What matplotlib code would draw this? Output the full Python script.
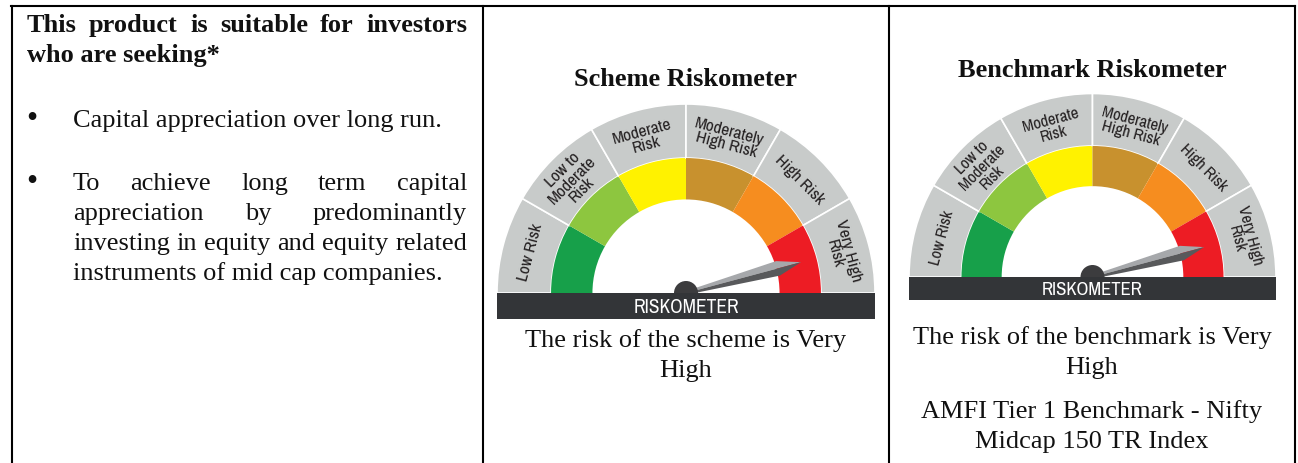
import numpy as np
import matplotlib
matplotlib.use("Agg")
import matplotlib.pyplot as plt
from matplotlib import font_manager as fm
from matplotlib.patches import Wedge, Rectangle, Polygon, Circle

# ---------------- data ----------------
risk_levels = ["Low Risk", "Low to\nModerate\nRisk", "Moderate\nRisk",
               "Moderately\nHigh Risk", "High Risk", "Very High\nRisk"]
risk_colors = ["#17a04a", "#8dc63f", "#fff200", "#c8912e", "#f68d1f", "#ed1c24"]
scheme_risk_level = 5.5      # needle position on the 0-6 scale (Very High)
benchmark_risk_level = 5.5

header_lines = ["This product is suitable for investors", "who are seeking*"]
bullet1_lines = ["Capital appreciation over long run."]
bullet2_lines = ["To achieve long term capital",
                 "appreciation by predominantly",
                 "investing in equity and equity related",
                 "instruments of mid cap companies."]
scheme_title = "Scheme Riskometer"
benchmark_title = "Benchmark Riskometer"
scheme_caption = ["The risk of the scheme is Very", "High"]
benchmark_caption = ["The risk of the benchmark is Very", "High"]
benchmark_name = ["AMFI Tier 1 Benchmark - Nifty", "Midcap 150 TR Index"]

# ---------------- fonts ----------------
def pick_condensed():
    cands = []
    for f in fm.fontManager.ttflist:
        nm = f.name
        st = str(f.stretch).lower()
        wt = f.weight
        is_reg = (wt in (400, "normal", "regular", "book")) and f.style == "normal"
        if not is_reg:
            continue
        if "narrow" in nm.lower() or "condensed" in nm.lower():
            cands.append((0, nm, f.fname))
        elif "condensed" in st or st in ("300", "400", "200", "100"):
            cands.append((1, nm, f.fname))
    if cands:
        cands.sort()
        return fm.FontProperties(fname=cands[0][2])
    return None

COND = pick_condensed()

# ---------------- figure ----------------
W, H = 1298, 464
fig = plt.figure(figsize=(W / 100, H / 100), dpi=100)
ax = fig.add_axes([0, 0, 1, 1])
ax.set_xlim(0, W)
ax.set_ylim(H, 0)
ax.axis("off")

SERIF = ["Liberation Serif", "DejaVu Serif"]
TXT = "#111111"
FS = 19


def cond_kw(size):
    if COND is not None:
        fp = COND.copy()
        fp.set_size(size)
        return {"fontproperties": fp}
    return {"family": "DejaVu Sans", "fontsize": size * 0.85}


# table borders
lw = 1.5
ax.plot([11, 1295], [6.5, 6.5], color="black", lw=lw, solid_capstyle="projecting")
for x in [11.5, 483, 889, 1295]:
    ax.plot([x, x], [6.5, H + 5], color="black", lw=lw)

renderer = fig.canvas.get_renderer()


def justify(line, x0, x1, y, **kw):
    words = line.split()
    ts = [ax.text(x0, y, w, ha="left", va="baseline", **kw) for w in words]
    widths = [t.get_window_extent(renderer).width for t in ts]
    gap = (x1 - x0 - sum(widths)) / (len(words) - 1)
    x = x0
    for t, w in zip(ts, widths):
        t.set_x(x)
        x += w + gap


# left column
justify(header_lines[0], 27, 467, 32, family=SERIF, fontsize=FS,
        fontweight="bold", color=TXT)
ax.text(27, 62, header_lines[1], ha="left", va="baseline", family=SERIF,
        fontsize=FS, fontweight="bold", color=TXT)

ax.text(32, 119, "\u2022", ha="center", va="center", family=SERIF, fontsize=23, color=TXT)
ax.text(73, 127, bullet1_lines[0], ha="left", va="baseline", family=SERIF,
        fontsize=FS, color=TXT)

ax.text(32, 183, "\u2022", ha="center", va="center", family=SERIF, fontsize=23, color=TXT)
b2_base = [190, 220, 250, 280]
for i, line in enumerate(bullet2_lines):
    if i < 3:
        justify(line, 73, 467, b2_base[i], family=SERIF, fontsize=FS, color=TXT)
    else:
        ax.text(73, b2_base[i], line, ha="left", va="baseline", family=SERIF,
                fontsize=FS, color=TXT)


def gauge(cx, cy, R, bar_x0, bar_x1, bar_y1, level, label_fs, bar_fs):
    r_col = R * 0.714
    r_in = R * 0.495
    n = len(risk_levels)
    step = 180.0 / n
    for i in range(n):
        a1 = 180 - (i + 1) * step
        a2 = 180 - i * step
        ax.add_patch(Wedge((cx, cy), R, -a2, -a1, width=R - r_col,
                           facecolor="#c8cbca", edgecolor="white", lw=1.2))
        ax.add_patch(Wedge((cx, cy), r_col, -a2, -a1, width=r_col - r_in,
                           facecolor=risk_colors[i], edgecolor="none"))
        am = np.radians(180 - (i + 0.5) * step)
        rl = (R + r_col) / 2 - 1
        ax.text(cx + rl * np.cos(am), cy - rl * np.sin(am), risk_levels[i],
                rotation=np.degrees(am) - 90, rotation_mode="anchor",
                ha="center", va="center", multialignment="center",
                color="#231f20", linespacing=0.92, **cond_kw(label_fs))
    # needle
    ang = np.radians(180 - level * step)
    L = 0.63 * R
    u = np.array([np.cos(ang), -np.sin(ang)])
    v = np.array([-np.sin(ang), -np.cos(ang)])
    c = np.array([cx, cy])
    base_w, head_w, head_pos = 1.8, 7.5, 0.80
    upper = [c + v * base_w, c + u * L * head_pos + v * head_w, c + u * L, c]
    lower = [c - v * base_w, c + u * L * head_pos - v * head_w, c + u * L, c]
    ax.add_patch(Polygon(upper, closed=True, facecolor="#a6a8ab", edgecolor="none"))
    ax.add_patch(Polygon(lower, closed=True, facecolor="#58595b", edgecolor="none"))
    ax.add_patch(Circle((cx, cy), 12, facecolor="#3c3c3e", edgecolor="none"))
    ax.add_patch(Rectangle((bar_x0, cy), bar_x1 - bar_x0, bar_y1 - cy,
                           facecolor="#333538", edgecolor="none"))
    ax.text((bar_x0 + bar_x1) / 2, (cy + bar_y1) / 2 + 1, "RISKOMETER",
            ha="center", va="center", color="white", **cond_kw(bar_fs))


gauge(686, 294, 189, 497, 875, 320, scheme_risk_level, 12.5, 14)
gauge(1092.5, 278, 183.5, 909, 1276, 301, benchmark_risk_level, 12, 13.5)

ax.text(686, 86, scheme_title, ha="center", va="baseline", family=SERIF,
        fontsize=FS, fontweight="bold", color=TXT)
ax.text(1092, 77, benchmark_title, ha="center", va="baseline", family=SERIF,
        fontsize=FS, fontweight="bold", color=TXT)
for i, line in enumerate(scheme_caption):
    ax.text(686, 347 + 30 * i, line, ha="center", va="baseline", family=SERIF,
            fontsize=FS, color=TXT)
for i, line in enumerate(benchmark_caption):
    ax.text(1092, 344 + 30 * i, line, ha="center", va="baseline", family=SERIF,
            fontsize=FS, color=TXT)
for i, line in enumerate(benchmark_name):
    ax.text(1092, 418 + 30 * i, line, ha="center", va="baseline", family=SERIF,
            fontsize=FS, color=TXT)

fig.savefig("out.png", dpi=100)
